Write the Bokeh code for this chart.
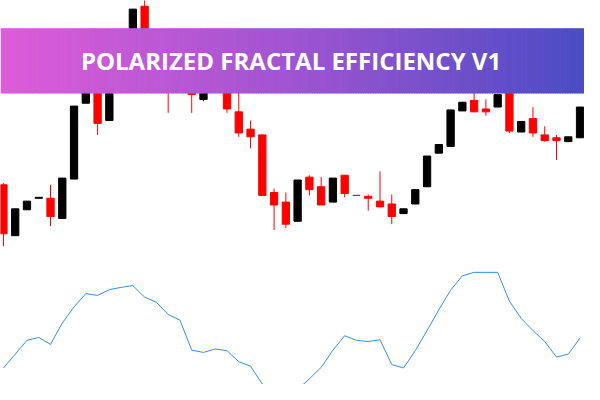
import numpy as np
from bokeh.plotting import figure
from bokeh.models import Range1d, ColumnDataSource
from bokeh.embed import file_html
from bokeh.resources import INLINE
from bokeh.core.properties import value

# ---- data (price units, higher = up) ----
bar_index = list(range(50))
open_ = [208, 155, 182, 194, 194, 173, 214, 293, 320, 275,
         315, 345, 394, 350, 335, 310, 340, 297, 325, 315,
         284, 266, 260, 200, 190, 170, 216, 206, 190, 218,
         197, 196, 191, 188, 178, 188, 206, 241, 248, 285,
         296, 287, 289, 330, 263, 277, 260, 257, 253, 257]
high = [210, 183, 191, 195, 208, 215, 290, 330, 328, 325,
        355, 391, 405, 355, 340, 342, 345, 328, 330, 320,
        315, 275, 260, 204, 200, 213, 218, 216, 215, 218,
        197, 198, 222, 198, 183, 203, 238, 250, 286, 294,
        310, 297, 302, 335, 274, 289, 269, 260, 258, 289]
low = [144, 155, 182, 194, 165, 173, 214, 293, 260, 275,
       310, 340, 345, 325, 283, 305, 283, 295, 305, 283,
       258, 246, 197, 161, 163, 170, 197, 187, 190, 195,
       197, 181, 185, 167, 178, 188, 206, 241, 248, 285,
       284, 280, 289, 262, 263, 258, 253, 234, 253, 257]
close = [157, 183, 191, 195, 175, 215, 290, 330, 272, 325,
         350, 391, 350, 330, 315, 340, 302, 325, 310, 287,
         262, 258, 197, 187, 167, 213, 203, 187, 215, 199,
         197, 194, 185, 175, 183, 203, 238, 250, 286, 294,
         284, 284, 302, 264, 274, 262, 254, 254, 258, 289]

# Polarized Fractal Efficiency values
pfe = [-83, -59, -35, -30, -42, -5, 23, 46, 43, 53,
       57, 60, 40, 31, 10, 0, -52, -56, -50, -53,
       -72, -80, -111, -128, -132, -120, -102, -82, -52, -27,
       -35, -37, -34, -77, -83, -53, -18, 18, 52, 77,
       83, 83, 83, 33, 3, -18, -37, -64, -59, -31]

title_text = "POLARIZED FRACTAL EFFICIENCY V1"

# ---- figure ----
p = figure(width=584, height=384,
           x_range=Range1d(-0.25, 49.38), y_range=Range1d(0, 400),
           output_backend="svg", toolbar_location=None,
           x_axis_type=None, y_axis_type=None, min_border=0,
           outline_line_color=None, background_fill_color="white",
           border_fill_color="white")
p.grid.visible = False
p.extra_y_ranges = {"pfe": Range1d(-111.67, 555.0)}

bull_color = "#000000"
bear_color = "#FF0000"
colors = []
wick_colors = []
for o, c in zip(open_, close):
    if c > o:
        colors.append(bull_color); wick_colors.append(bull_color)
    elif c < o:
        colors.append(bear_color); wick_colors.append(bear_color)
    else:
        colors.append("#555555"); wick_colors.append("#555555")

src = ColumnDataSource(dict(x=bar_index, o=open_, h=high, l=low, c=close,
                            top=[max(a, b) for a, b in zip(open_, close)],
                            bot=[min(a, b) for a, b in zip(open_, close)],
                            col=colors, wcol=wick_colors))

p.segment(x0="x", y0="h", x1="x", y1="l", color="wcol", line_width=1, source=src)
p.vbar(x="x", top="top", bottom="bot", width=0.62, fill_color="col",
       line_color="col", line_width=1, source=src)

p.line(bar_index, pfe, y_range_name="pfe", line_color="#2E8FF0", line_width=1)

# ---- banner with horizontal gradient ----
n = 240
x0, x1 = -0.25, 49.38
edges = np.linspace(x0, x1, n + 1)
stops_t = [0.0, 0.5, 1.0]
stops_c = [(221, 92, 217), (160, 84, 209), (74, 76, 196)]
cols = []
for k in range(n):
    t = (k + 0.5) / n
    rgb = [int(round(np.interp(t, stops_t, [s[j] for s in stops_c]))) for j in range(3)]
    cols.append("#%02x%02x%02x" % tuple(rgb))
band_top = 371
band_bot = 303
p.quad(left=edges[:-1], right=edges[1:] + (x1 - x0) / n * 0.3,
       top=band_top, bottom=band_bot, fill_color=cols, line_color=None)

p.text(x=[24.44], y=[338], text=[title_text], text_color="white",
       text_font=value("Open Sans"), text_font_style="bold",
       text_font_size="24px", text_align="center", text_baseline="middle")

open("out.html", "w").write(file_html(p, INLINE))
